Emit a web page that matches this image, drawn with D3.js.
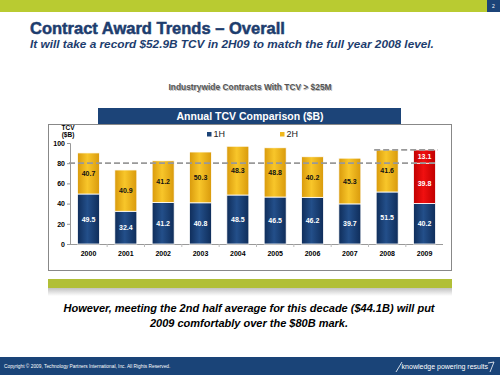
<!DOCTYPE html>
<html>
<head>
<meta charset="utf-8">
<script src="https://cdn.jsdelivr.net/npm/d3@7"></script>
<style>
  body { margin: 0; background: #fff; }
  svg { display: block; font-family: "Liberation Sans", Arial, sans-serif; }
</style>
</head>
<body>
<div id="slide"></div>
<script>
// chart data
var years = ["2000", "2001", "2002", "2003", "2004", "2005", "2006", "2007", "2008", "2009"];
var firstHalf = [49.5, 32.4, 41.2, 40.8, 48.5, 46.5, 46.2, 39.7, 51.5, 40.2];
var secondHalf = [40.7, 40.9, 41.2, 50.3, 48.3, 48.8, 40.2, 45.3, 41.6, 39.8];
var gapTo2008 = [0, 0, 0, 0, 0, 0, 0, 0, 0, 13.1];
var yTicks = [0, 20, 40, 60, 80, 100];
var markLevel = 80;

var W = 500, H = 375;
var svg = d3.select("#slide").append("svg")
    .attr("width", W)
    .attr("height", H);

var defs = svg.append("defs");
function cyl(id, dark, light) {
  var g = defs.append("linearGradient").attr("id", id)
      .attr("x1", "0%").attr("x2", "100%").attr("y1", "0%").attr("y2", "0%");
  g.append("stop").attr("offset", "0%").attr("stop-color", dark);
  g.append("stop").attr("offset", "45%").attr("stop-color", light);
  g.append("stop").attr("offset", "100%").attr("stop-color", dark);
}
cyl("gNavy", "#0f2d5a", "#234f8a");
cyl("gGold", "#d99a0c", "#f8c62a");
cyl("gRed", "#c00000", "#f01010");
var sh = defs.append("linearGradient").attr("id", "gShadow")
    .attr("x1", "0%").attr("x2", "0%").attr("y1", "0%").attr("y2", "100%");
sh.append("stop").attr("offset", "0%").attr("stop-color", "#999");
sh.append("stop").attr("offset", "100%").attr("stop-color", "#fff");

// top band + page number
svg.append("rect").attr("x", 0).attr("y", 0).attr("width", W).attr("height", 12).attr("fill", "#b9cb31");
svg.append("rect").attr("x", 487).attr("y", 0).attr("width", 13).attr("height", 12).attr("fill", "#1c4478");
svg.append("text").attr("x", 493.5).attr("y", 8).attr("text-anchor", "middle")
    .attr("font-size", 5).attr("fill", "#fff").text("2");

// titles
svg.append("text").attr("x", 30).attr("y", 34)
    .attr("font-size", 16.5).attr("font-weight", "bold").attr("fill", "#1d3d6e")
    .attr("stroke", "#1d3d6e").attr("stroke-width", 0.5)
    .text("Contract Award Trends \u2013 Overall");
svg.append("text").attr("x", 30).attr("y", 48)
    .attr("font-size", 11.8).attr("font-weight", "bold").attr("font-style", "italic").attr("fill", "#1d3d6e")
    .text("It will take a record $52.9B TCV in 2H09 to match the full year 2008 level.");

svg.append("text").attr("x", 251).attr("y", 91).attr("text-anchor", "middle")
    .attr("font-size", 8.4).attr("font-weight", "bold").attr("fill", "#bbb")
    .text("Industrywide Contracts With  TCV > $25M");
svg.append("text").attr("x", 250).attr("y", 90).attr("text-anchor", "middle")
    .attr("font-size", 8.4).attr("font-weight", "bold").attr("fill", "#555")
    .text("Industrywide Contracts With  TCV > $25M");

// chart frame and header
svg.append("rect").attr("x", 48.5).attr("y", 124.5).attr("width", 403).attr("height", 146)
    .attr("fill", "#fff").attr("stroke", "#888").attr("stroke-width", 1);
svg.append("rect").attr("x", 98).attr("y", 108).attr("width", 303).attr("height", 16).attr("fill", "#1c4478");
svg.append("text").attr("x", 250).attr("y", 120).attr("text-anchor", "middle")
    .attr("font-size", 10.5).attr("font-weight", "bold").attr("fill", "#fff")
    .text("Annual TCV Comparison ($B)");

// scales
var x = d3.scaleBand().domain(years).range([70, 443]).paddingInner(0.41).paddingOuter(0.2);
var y = d3.scaleLinear().domain([0, 100]).range([244, 143]);

// axes
var yAxis = svg.append("g").attr("transform", "translate(70,0)")
    .call(d3.axisLeft(y).tickValues(yTicks).tickSize(3).tickPadding(2));
yAxis.selectAll("text").attr("font-size", 7).attr("font-weight", "bold").attr("fill", "#000");
yAxis.selectAll("line, path").attr("stroke", "#999");

var xAxis = svg.append("g").attr("transform", "translate(0,244)")
    .call(d3.axisBottom(x).tickSize(0).tickPadding(7));
xAxis.selectAll("text").attr("font-size", 7).attr("font-weight", "bold").attr("fill", "#000");
xAxis.select("path").attr("stroke", "#999").attr("d", "M70,0.5H443");
// small ticks between bars
xAxis.selectAll(".sep").data(years.slice(1)).enter().append("line")
    .attr("x1", function(d) { return x(d) - x.step() * x.paddingInner() / 2; })
    .attr("x2", function(d) { return x(d) - x.step() * x.paddingInner() / 2; })
    .attr("y1", 0).attr("y2", 3).attr("stroke", "#bbb");

svg.append("text").attr("x", 68).attr("y", 130).attr("text-anchor", "middle")
    .attr("font-size", 6.5).attr("font-weight", "bold").text("TCV");
svg.append("text").attr("x", 68).attr("y", 137).attr("text-anchor", "middle")
    .attr("font-size", 6.5).attr("font-weight", "bold").text("($B)");

// stacked bars
var rows = years.map(function(yr, i) {
  return { year: yr, h1: firstHalf[i], h2: secondHalf[i], gap: gapTo2008[i], last: yr === "2009" };
});
var stack = d3.stack().keys(["h1", "h2", "gap"])(rows);
var fills = { h1: "url(#gNavy)", h2: "url(#gGold)", gap: "url(#gRed)" };

stack.forEach(function(layer) {
  var g = svg.append("g");
  g.selectAll("rect").data(layer.filter(function(d) { return d[1] - d[0] > 0; })).enter().append("rect")
      .attr("x", function(d) { return x(d.data.year); })
      .attr("width", x.bandwidth())
      .attr("y", function(d) { return y(d[1]); })
      .attr("height", function(d) { return y(d[0]) - y(d[1]); })
      .attr("fill", function(d) {
        if (layer.key === "h2" && d.data.last) return "url(#gRed)";
        return fills[layer.key];
      })
      .attr("stroke", "#fff").attr("stroke-width", 0.8);
  g.selectAll("text").data(layer.filter(function(d) { return d[1] - d[0] > 0; })).enter().append("text")
      .attr("x", function(d) { return x(d.data.year) + x.bandwidth() / 2; })
      .attr("y", function(d) { return (y(d[0]) + y(d[1])) / 2 + 2.5; })
      .attr("text-anchor", "middle")
      .attr("font-size", 7).attr("font-weight", "bold")
      .attr("fill", function(d) { return (layer.key === "h2" && !d.data.last) ? "#111" : "#fff"; })
      .text(function(d) { return d3.format(".1f")(d[1] - d[0]); });
});

// reference lines
svg.append("line").attr("x1", 69).attr("x2", 438)
    .attr("y1", y(markLevel)).attr("y2", y(markLevel))
    .attr("stroke", "#999").attr("stroke-width", 1.8).attr("stroke-dasharray", "6,3");
var total2008 = firstHalf[8] + secondHalf[8];
svg.append("line").attr("x1", x("2008") - 2).attr("x2", x("2009") + x.bandwidth() + 2)
    .attr("y1", y(total2008)).attr("y2", y(total2008))
    .attr("stroke", "#999").attr("stroke-width", 1.8).attr("stroke-dasharray", "6,3");

// legend
var legend = [{ name: "1H", color: "#1c4478", x: 207 }, { name: "2H", color: "#f0b81c", x: 280 }];
legend.forEach(function(l) {
  svg.append("rect").attr("x", l.x).attr("y", 132).attr("width", 4.5).attr("height", 4.5).attr("fill", l.color);
  svg.append("text").attr("x", l.x + 6.5).attr("y", 137).attr("font-size", 9).attr("fill", "#222").text(l.name);
});

// green band and shadow below chart
svg.append("rect").attr("x", 48).attr("y", 288).attr("width", 404).attr("height", 8).attr("fill", "url(#gShadow)").attr("opacity", 0.6);
svg.append("rect").attr("x", 48).attr("y", 279).attr("width", 404).attr("height", 9).attr("fill", "#b1bf37");

// bottom message
svg.append("text").attr("x", 249).attr("y", 312).attr("text-anchor", "middle")
    .attr("font-size", 11).attr("font-weight", "bold").attr("font-style", "italic").attr("fill", "#000")
    .text("However, meeting the 2nd half average for this decade ($44.1B) will put");
svg.append("text").attr("x", 249).attr("y", 327).attr("text-anchor", "middle")
    .attr("font-size", 11).attr("font-weight", "bold").attr("font-style", "italic").attr("fill", "#000")
    .text("2009 comfortably over the $80B mark.");

// footer
svg.append("rect").attr("x", 0).attr("y", 357).attr("width", W).attr("height", 18).attr("fill", "#1a4478");
svg.append("text").attr("x", 4).attr("y", 368).attr("font-size", 4.8).attr("fill", "#fff")
    .text("Copyright \u00a9 2009, Technology  Partners  International, Inc. All Rights Reserved.");
svg.append("text").attr("x", 488).attr("y", 369).attr("text-anchor", "end")
    .attr("font-size", 7).attr("fill", "#fff")
    .text("knowledge powering results");
svg.append("path").attr("d", "M396,372 L402,362").attr("stroke", "#fff").attr("stroke-width", 0.8).attr("fill", "none");
svg.append("path").attr("d", "M488,363 L494,362 L490,372").attr("stroke", "#fff").attr("stroke-width", 0.8).attr("fill", "none");
</script>
</body>
</html>
